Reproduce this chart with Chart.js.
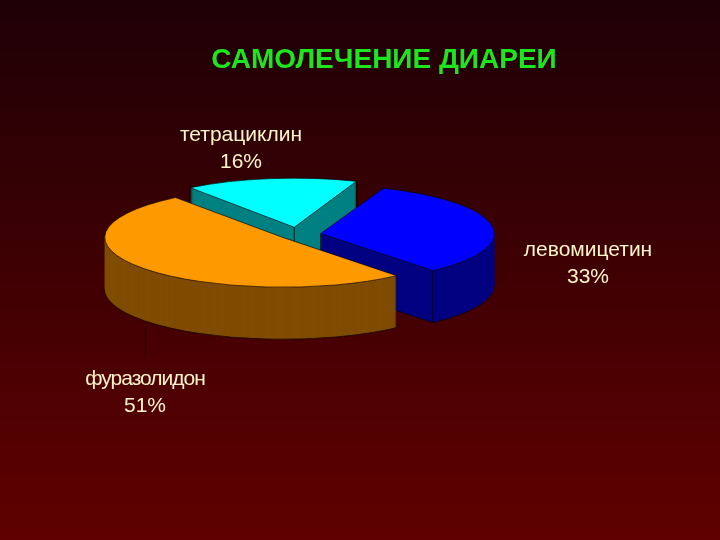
<!DOCTYPE html>
<html>
<head>
<meta charset="utf-8">
<title>Самолечение диареи</title>
<script src="https://cdn.jsdelivr.net/npm/chart.js@4"></script>
<style>
    html, body {
        margin: 0;
        width: 720px;
        height: 540px;
        overflow: hidden;
        background: linear-gradient(#1e0006, #600000);
    }
    canvas { display: block; }
</style>
</head>
<body>
<canvas id="grafico" width="720" height="540"></canvas>
<script>
const titulo = "САМОЛЕЧЕНИЕ ДИАРЕИ";
const categorias = ["левомицетин", "фуразолидон", "тетрациклин"];
const valores = [33, 51, 16];

const coresTopo = ["#0000ff", "#ff9900", "#00ffff"];
const coresLado = ["#000080", "#7f4c00", "#008080"];
const explosao = [120, 32, 140];
const ordemDesenho = [2, 0, 1];

// a perspectiva do original empurra cada fatia um pouco
const desvioX = [1, -1, 9];
const desvioY = [-2, -1, 0];

const posRotulos = [[588, 256], [145, 385], [241, 141]];
const espacoLetras = ["0px", "-1px", "0px"];

const centroX = 290;
const centroY = 237;
const achatar = 0.28;
const altura = 52;

function desenharFatia(ctx, arco, dx, dy) {

    ctx.save();
    ctx.translate(centroX + dx, centroY + dy);
    ctx.scale(1, achatar);
    ctx.translate(-arco.x, -arco.y);
    arco.draw(ctx);
    ctx.restore();
}

function comOpcoes(arco, extra, fn) {

    const antigas = arco.options;

    arco.options = Object.assign({}, antigas, extra);
    fn();
    arco.options = antigas;
}

function arestas(ctx, arco, off, dx, dy) {

    const meio = (arco.startAngle + arco.endAngle) / 2;
    const circ = arco.endAngle - arco.startAngle;
    const d = off / 4;
    const r = arco.outerRadius + d * (1 - Math.sin(Math.min(Math.PI, circ)));
    const ax = Math.cos(meio) * d;
    const ay = Math.sin(meio) * d;

    const pontos = [
        [ax + Math.cos(arco.startAngle) * r, ay + Math.sin(arco.startAngle) * r],
        [ax + Math.cos(arco.endAngle) * r, ay + Math.sin(arco.endAngle) * r]
    ];

    if (circ < Math.PI) {

        pontos.push([ax, ay]);
    }

    ctx.strokeStyle = "rgba(0,0,0,0.75)";
    ctx.lineWidth = 1;

    pontos.forEach(p => {

        const x = centroX + dx + p[0];
        const y = centroY + dy + p[1] * achatar;

        ctx.beginPath();
        ctx.moveTo(x, y);
        ctx.lineTo(x, y + altura);
        ctx.stroke();
    });
}

const pizza3d = {

    id: "pizza3d",

    beforeDatasetsDraw(chart) {

        const ctx = chart.ctx;
        const arcos = chart.getDatasetMeta(0).data;

        ordemDesenho.forEach(i => {

            const arco = arcos[i];
            const dx = desvioX[i];
            const dy = desvioY[i];

            comOpcoes(arco, {
                backgroundColor: coresLado[i],
                borderColor: "#000000",
                borderWidth: 1
            }, () => desenharFatia(ctx, arco, dx, dy + altura));

            comOpcoes(arco, {
                backgroundColor: coresLado[i],
                borderWidth: 0
            }, () => {

                for (let h = altura - 1; h > 0; h--) {

                    desenharFatia(ctx, arco, dx, dy + h);
                }
            });

            arestas(ctx, arco, explosao[i], dx, dy);

            comOpcoes(arco, {
                backgroundColor: coresTopo[i],
                borderColor: "#000000",
                borderWidth: 1
            }, () => desenharFatia(ctx, arco, dx, dy));
        });

        // linha do rótulo de baixo
        ctx.strokeStyle = "rgba(0,0,0,0.8)";
        ctx.lineWidth = 1;
        ctx.beginPath();
        ctx.moveTo(145.5, 322);
        ctx.lineTo(145.5, 358);
        ctx.stroke();

        return false;
    },

    afterDraw(chart) {

        const ctx = chart.ctx;

        ctx.save();
        ctx.textAlign = "center";
        ctx.textBaseline = "alphabetic";

        ctx.fillStyle = "#1ee61e";
        ctx.font = "bold 28px 'Liberation Sans'";
        ctx.fillText(titulo, 384, 68);

        ctx.fillStyle = "#fff4c8";
        ctx.font = "21px 'Liberation Sans'";

        categorias.forEach((nome, i) => {

            const p = posRotulos[i];

            ctx.letterSpacing = espacoLetras[i];
            ctx.fillText(nome, p[0], p[1]);
            ctx.letterSpacing = "0px";
            ctx.fillText(valores[i] + "%", p[0], p[1] + 27);
        });

        ctx.restore();
    }
};

new Chart(document.getElementById("grafico"), {

    type: "pie",

    data: {

        labels: categorias,

        datasets: [{

            data: valores,

            backgroundColor: coresTopo,

            borderWidth: 0,

            offset: explosao
        }]
    },

    options: {

        responsive: false,

        animation: false,

        rotation: 21,

        radius: 170,

        plugins: {

            legend: {
                display: false
            },

            tooltip: {
                enabled: false
            }
        }
    },

    plugins: [pizza3d]
});
</script>
</body>
</html>
